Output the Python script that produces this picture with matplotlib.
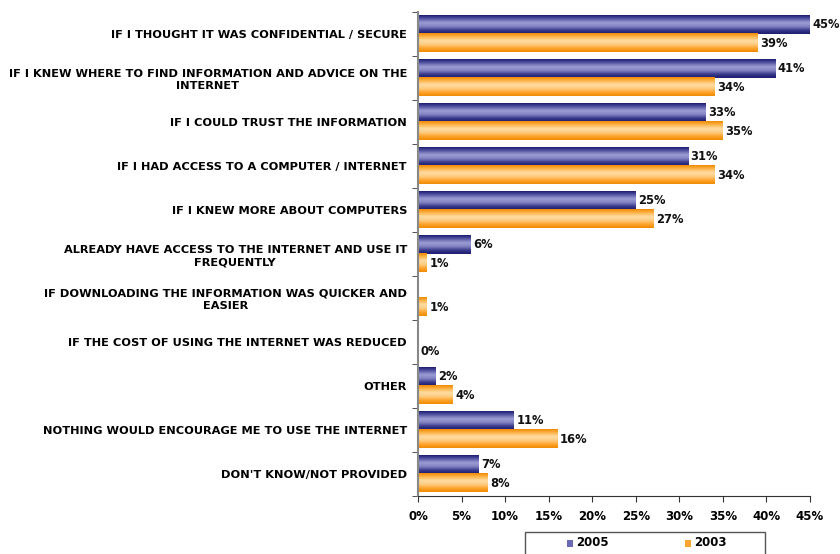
import numpy as np
import matplotlib
matplotlib.use("Agg")
import matplotlib.pyplot as plt
from matplotlib.colors import LinearSegmentedColormap
from matplotlib.patches import Rectangle

categories = [
    "IF I THOUGHT IT WAS CONFIDENTIAL / SECURE",
    "IF I KNEW WHERE TO FIND INFORMATION AND ADVICE ON THE\nINTERNET",
    "IF I COULD TRUST THE INFORMATION",
    "IF I HAD ACCESS TO A COMPUTER / INTERNET",
    "IF I KNEW MORE ABOUT COMPUTERS",
    "ALREADY HAVE ACCESS TO THE INTERNET AND USE IT\nFREQUENTLY",
    "IF DOWNLOADING THE INFORMATION WAS QUICKER AND\nEASIER",
    "IF THE COST OF USING THE INTERNET WAS REDUCED",
    "OTHER",
    "NOTHING WOULD ENCOURAGE ME TO USE THE INTERNET",
    "DON'T KNOW/NOT PROVIDED",
]
values_2005 = [45, 41, 33, 31, 25, 6, np.nan, np.nan, 2, 11, 7]
values_2003 = [39, 34, 35, 34, 27, 1, 1, 0, 4, 16, 8]
series_names = ["2005", "2003"]
x_ticks = [0, 5, 10, 15, 20, 25, 30, 35, 40, 45]

blue_cmap = LinearSegmentedColormap.from_list(
    "blue_tube", ["#1c1c70", "#5a5aa8", "#9c9cd4", "#8484c4", "#3a3a8c", "#1c1c70"])
orange_cmap = LinearSegmentedColormap.from_list(
    "orange_tube", ["#f08a00", "#ffb850", "#ffdca6", "#ffcc80", "#ffa530", "#f08a00"])

fig = plt.figure(figsize=(8.4, 5.54), dpi=100)
ax = fig.add_axes([418 / 840, 1 - 496 / 554, 392 / 840, 484 / 554])

n = len(categories)
y = np.arange(n)
h = 0.41

bars05 = ax.barh(y - h / 2, np.nan_to_num(values_2005), height=h, color="none", zorder=2)
bars03 = ax.barh(y + h / 2, values_2003, height=h, color="none", zorder=2)

grad = np.linspace(0, 1, 64).reshape(-1, 1)


def shade(bars, cmap):
    for b in bars:
        x0, y0 = b.get_x(), b.get_y()
        w, hh = b.get_width(), b.get_height()
        if w <= 0:
            continue
        ax.imshow(grad, cmap=cmap, aspect="auto", interpolation="bicubic",
                  extent=(x0, x0 + w, y0 + hh, y0), zorder=2)


shade(bars05, blue_cmap)
shade(bars03, orange_cmap)

label_kw = dict(fontsize=8.3, fontweight="bold", va="center", ha="left", color="#111111")
for b, v in zip(bars05, values_2005):
    if not np.isnan(v):
        ax.text(b.get_width() + 0.3, b.get_y() + b.get_height() / 2, f"{v:.0f}%", **label_kw)
for b, v in zip(bars03, values_2003):
    ax.text(b.get_width() + 0.3, b.get_y() + b.get_height() / 2, f"{v:.0f}%", **label_kw)

ax.set_xlim(0, 45)
ax.set_ylim(n - 0.5, -0.5)
ax.set_xticks(x_ticks)
ax.set_xticklabels([f"{t}%" for t in x_ticks], fontsize=8.5, fontweight="bold")
ax.set_yticks(y)
ax.set_yticklabels(categories, fontsize=8.2, fontweight="bold",
                   multialignment="center", linespacing=1.3)
ax.tick_params(axis="y", length=0, pad=8)
ax.set_yticks(np.arange(n + 1) - 0.5, minor=True)
ax.tick_params(axis="y", which="minor", length=4, color="#333333")
ax.tick_params(axis="x", length=4, color="#333333", pad=6)

for s in ["top", "right"]:
    ax.spines[s].set_visible(False)
ax.spines["left"].set_color("#888888")
ax.spines["left"].set_linewidth(1.5)
ax.spines["bottom"].set_color("#333333")

# legend box below the axis
fig.patches.append(Rectangle((525 / 840, -0.01), 240 / 840, (554 - 532) / 554 + 0.01,
                             transform=fig.transFigure, facecolor="white",
                             edgecolor="#555555", linewidth=1.0))
legend_items = [(567, "#6a6ab4", series_names[0]), (685, "#ffa530", series_names[1])]
for px, col, name in legend_items:
    fig.patches.append(Rectangle((px / 840, 1 - 547 / 554), 6 / 840, 7 / 554,
                                 transform=fig.transFigure, facecolor=col,
                                 edgecolor="none"))
    fig.text((px + 9) / 840, 1 - 543 / 554, name, fontsize=8.5, fontweight="bold",
             va="center", ha="left")

fig.savefig("out.png", dpi=100)
